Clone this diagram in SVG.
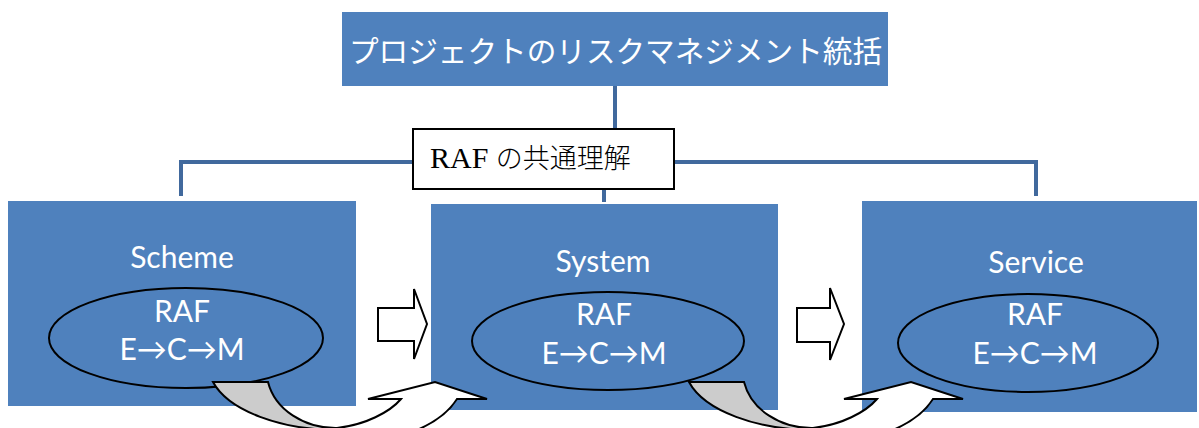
<svg xmlns="http://www.w3.org/2000/svg" width="1199" height="428" viewBox="0 0 1199 428">
<style>
.box{fill:#4f81bd;}
.conn{stroke:#41699d;stroke-width:4;fill:none;}
.ell{fill:none;stroke:#000;stroke-width:2;}
.lbl{font-family:Lato,"Open Sans","Liberation Sans",sans-serif;font-size:30px;fill:#fff;text-anchor:middle;}
.blk{fill:#fff;stroke:#000;stroke-width:2;stroke-linejoin:miter;}
.gry{fill:#cccccc;stroke:#000;stroke-width:2;}
</style>
<rect width="1199" height="428" fill="#fff"/>
<g id="connectors">
<line class="conn" x1="615" y1="86" x2="615" y2="129"/>
<polyline class="conn" points="181,196 181,162 1036,162 1036,196"/>
<line class="conn" x1="604" y1="188" x2="604" y2="202"/>
</g>
<g id="title">
<rect class="box" x="342" y="12" width="546" height="74"/>
<text x="349" y="62" font-family="'Noto Sans CJK JP',sans-serif" font-size="30" fill="#fff" textLength="533" lengthAdjust="spacingAndGlyphs">プロジェクトのリスクマネジメント統括</text>
</g>
<g id="raf-common">
<rect x="413" y="129" width="261" height="60" fill="#fff" stroke="#000" stroke-width="2"/>
<text x="430" y="168" font-family="'Liberation Serif','Noto Sans CJK JP',serif" font-size="30" fill="#000">RAF <tspan font-family="'Noto Sans CJK JP',sans-serif" font-size="27" font-weight="300">の共通理解</tspan></text>
</g>
<g id="scheme">
<rect class="box" x="8" y="201" width="348" height="205"/>
<text class="lbl" x="182" y="268">Scheme</text>
<ellipse class="ell" cx="186" cy="338" rx="137" ry="50"/>
<text class="lbl" x="182" y="322">RAF</text>
<text class="lbl" x="182" y="360">E→C→M</text>
</g>
<g id="system">
<rect class="box" x="431" y="204" width="347" height="206"/>
<text class="lbl" x="603" y="272">System</text>
<ellipse class="ell" cx="608" cy="341" rx="136" ry="49"/>
<text class="lbl" x="604" y="325">RAF</text>
<text class="lbl" x="604" y="364">E→C→M</text>
</g>
<g id="service">
<rect class="box" x="862" y="201" width="335" height="211"/>
<text class="lbl" x="1036" y="273">Service</text>
<ellipse class="ell" cx="1028" cy="343" rx="130" ry="49"/>
<text class="lbl" x="1035" y="325">RAF</text>
<text class="lbl" x="1035" y="364">E→C→M</text>
</g>
<g id="block-arrows">
<polygon class="blk" points="378,308 414,308 414,289 427,324 414,359 414,341 378,341"/>
<polygon class="blk" points="797,308 830,308 830,288 844,324 830,360 830,342 797,342"/>
</g>
<g id="curved-arrow-1">
<path class="gry" d="M213,382 L268,382 A69,58 0 0 0 337,428 L340,430 A130,65 0 0 1 213,382 Z"/>
<path class="blk" d="M337,428 C365,425 390,412 401,399 L368,399 L435,382 L487,399 L457,399 C445,418 420,432 385,440 L337,440 Z"/>
</g>
<g id="curved-arrow-2" transform="translate(476,0)">
<path class="gry" d="M213,382 L268,382 A69,58 0 0 0 337,428 L340,430 A130,65 0 0 1 213,382 Z"/>
<path class="blk" d="M337,428 C365,425 390,412 401,399 L368,399 L435,382 L487,399 L457,399 C445,418 420,432 385,440 L337,440 Z"/>
</g>
</svg>
